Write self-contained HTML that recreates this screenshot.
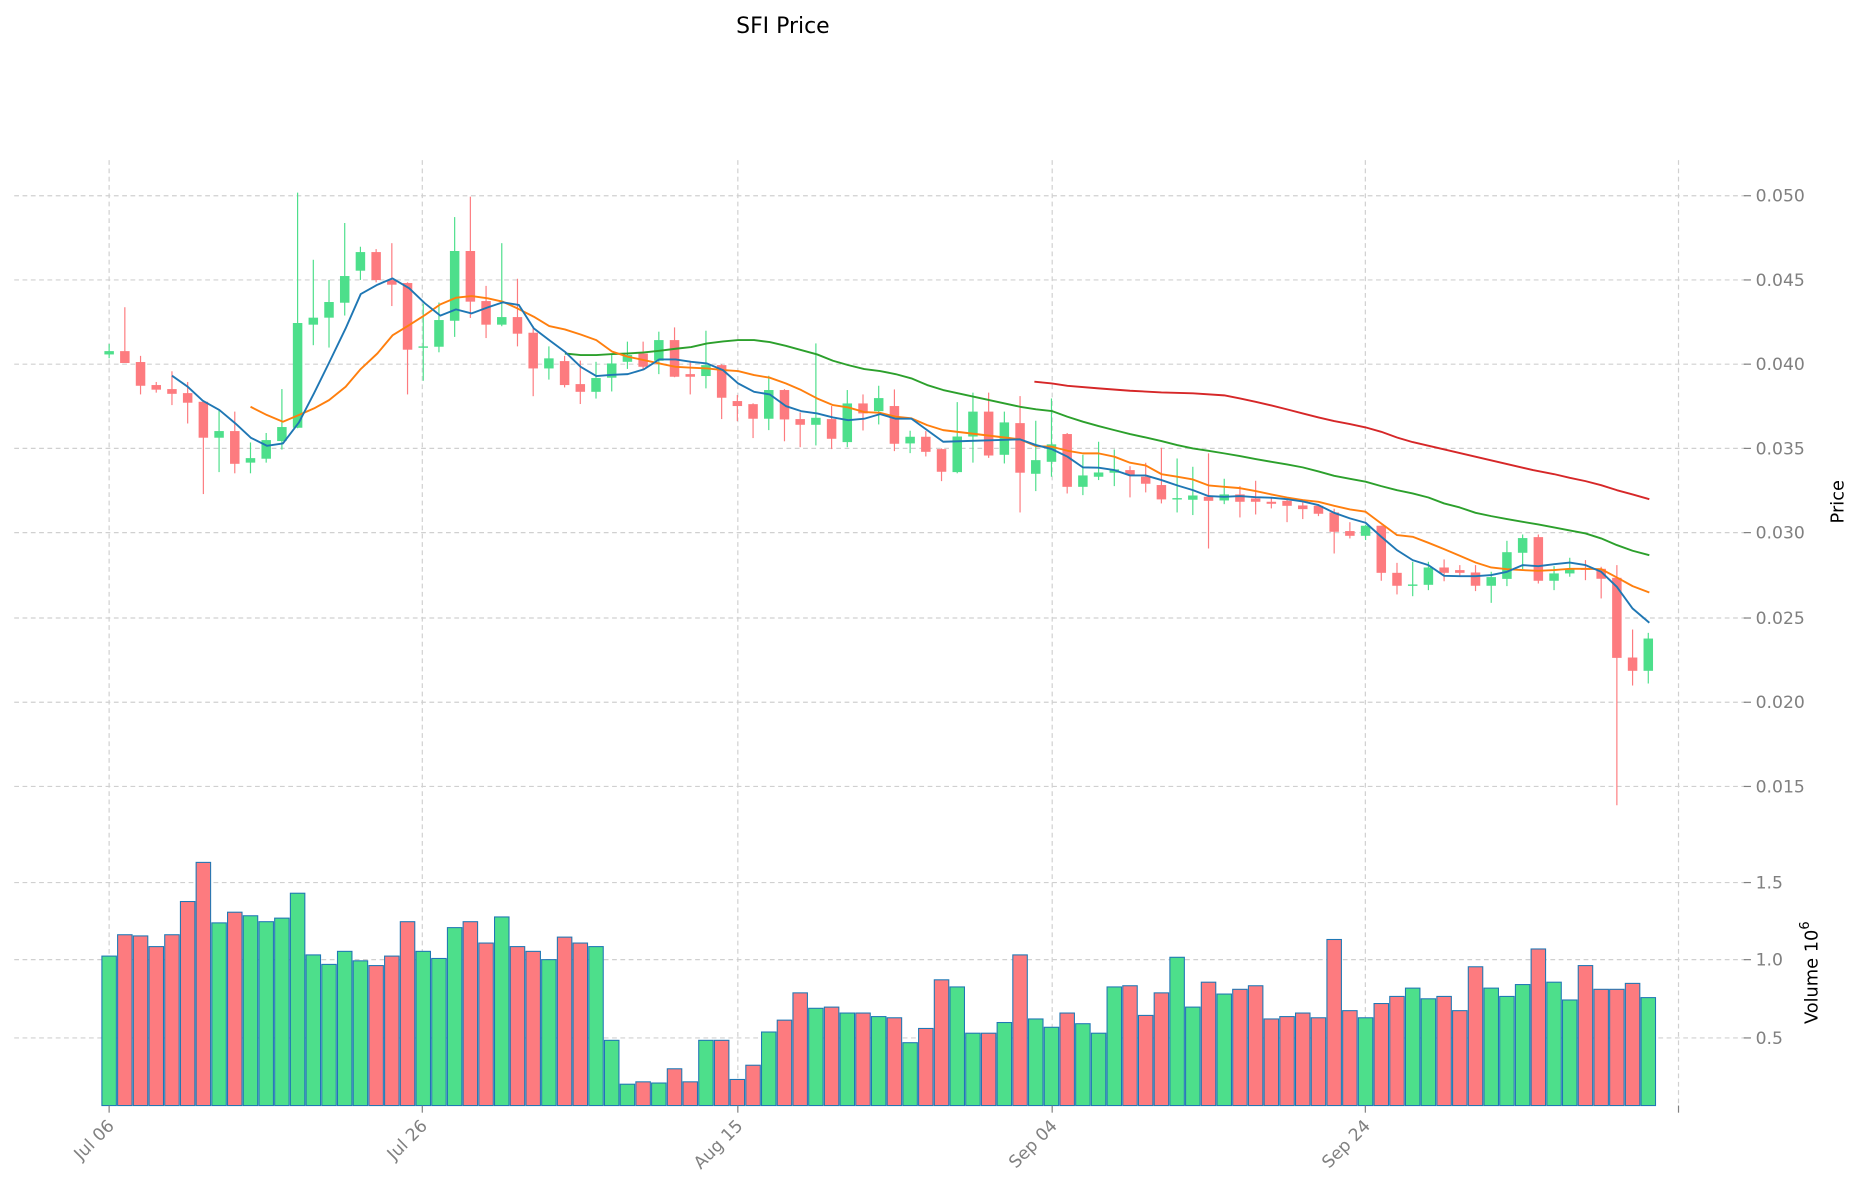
<!DOCTYPE html>
<html><head><meta charset="utf-8"><style>
html,body{margin:0;padding:0;background:#fff;}
svg{display:block;}
text{font-family:"DejaVu Sans","Liberation Sans",sans-serif;}
</style></head><body>
<svg id="s" width="1860" height="1202" viewBox="0 0 1568 1013.3" preserveAspectRatio="none" xmlns="http://www.w3.org/2000/svg">
<g id="grid" stroke="#d0d0d0" stroke-width="1" stroke-dasharray="4,3" fill="none"></g>
<g id="vol"></g>
<g id="cdl"></g>
<g id="ma" fill="none" stroke-width="1.6" stroke-linejoin="round"></g>
<g id="ticks" stroke="#808080" stroke-width="1"></g>
<g fill="#808080" font-size="14.5">
<text x="1480" y="170">0.050</text>
<text x="1480" y="241">0.045</text>
<text x="1480" y="312">0.040</text>
<text x="1480" y="383">0.035</text>
<text x="1480" y="454">0.030</text>
<text x="1480" y="526">0.025</text>
<text x="1480" y="597">0.020</text>
<text x="1480" y="668">0.015</text>
<text x="1480" y="749">1.5</text>
<text x="1480" y="814">1.0</text>
<text x="1480" y="880">0.5</text>
</g>
<g fill="#808080" font-size="14.5" text-anchor="end">
<text transform="translate(97,950) rotate(-45)">Jul 06</text>
<text transform="translate(361,950) rotate(-45)">Jul 26</text>
<text transform="translate(627,950) rotate(-45)">Aug 15</text>
<text transform="translate(892,950) rotate(-45)">Sep 04</text>
<text transform="translate(1156,950) rotate(-45)">Sep 24</text>
</g>
<text x="660" y="28" font-size="18.5" text-anchor="middle" fill="#000">SFI Price</text>
<text transform="translate(1554,423) rotate(-90)" font-size="15" text-anchor="middle" fill="#000">Price</text>
<text transform="translate(1532,820) rotate(-90)" font-size="15" text-anchor="middle" fill="#000">Volume  10<tspan dy="-7" font-size="11">6</tspan></text>
</svg>
<script>
var NS="http://www.w3.org/2000/svg";
function el(p,t,a){var e=document.createElementNS(NS,t);for(var k in a)e.setAttribute(k,a[k]);document.getElementById(p).appendChild(e);return e;}
function X(i){return 92+i*13.24;}
[165,236,307,378,449,521,592,663,744,809,875].forEach(function(y){el("grid","line",{x1:12,x2:1476,y1:y,y2:y});});
[92,356,622,887,1151,1415].forEach(function(x){el("grid","line",{x1:x,x2:x,y1:135,y2:934});});
[165,236,307,378,449,521,592,663,744,809,875].forEach(function(y){el("ticks","line",{x1:1470,x2:1476,y1:y,y2:y});});
[92,356,622,887,1151,1415].forEach(function(x){el("ticks","line",{x1:x,x2:x,y1:932,y2:938});});
var G="#4ddf8b",R="#fd7b7f";
var C=[
[296,298.8,290,302,1],[296,306,259,306,0],[305.2,325.2,300,332.5,0],[324.6,328.5,322,331,0],[328,332,313,341.5,0],
[331.4,339.5,322,357,0],[338.7,369,338,416.5,0],[363.4,369,346,398,1],[363.4,391,347,399,0],[386.2,390,373,399,1],
[371,386.7,365,390,1],[360,371.8,328,379,1],[272.3,360.6,162.4,361,1],[267.8,273.7,219,291,1],[254.6,267.8,236,293,1],
[232.7,255.2,188,266,1],[212.5,228.2,208,236,1],[212.5,236.1,210,238,0],[236.1,240,205,258,0],[238.6,294.8,238,332.5,0],
[292,292.8,256,321,1],[269.8,292.3,255,297,1],[211.6,270.4,183,284,1],[211.6,254.3,165.8,268,0],[253.8,273.7,241,285,0],
[267.3,273.7,205,275,1],[267.3,281.3,235,292,0],[280.5,310.6,275,334,0],[302.1,310.6,292,320,1],[304.4,324.6,300,326.6,0],
[323.8,330.3,304,340.6,0],[318.7,330.3,305,336,1],[306.4,318.4,298,330,1],[299.3,305,288,311,1],[298,309.2,288,312,0],
[286.7,304.1,279.6,315.4,1],[286.7,317.6,276,318,0],[315.4,317.6,305,332.5,0],[307.8,317,278.8,327.4,1],[307.8,335.3,307,353.3,0],
[338.1,342.3,333,355,0],[340.7,353,340,369.3,0],[328.8,353,316.8,362.6,1],[328.8,353.6,328,372,0],[353.3,358.1,347.7,377,0],
[352.2,358.1,289.5,375.5,1],[353.3,369.9,342.3,378.6,0],[340.1,372.7,328.8,377,1],[340.1,348.5,332.5,362.9,0],[335.6,346.6,325.2,357.8,1],
[342.3,374.1,328.3,380.3,0],[368.2,373.8,363.1,382,1],[368.2,380.9,363.4,384.8,0],[378.6,397.7,378,405.6,0],[368,398,339,399,1],
[347,368,331,390,1],[347,384,331,386,0],[356.1,383.4,347,390.7,1],[356.7,398.5,333.9,432,0],[387.9,399.4,354.7,414,1],
[374.6,389.3,335.9,401.9,1],[365.9,410.4,365,416,0],[400.8,410.4,383.4,417.4,1],[398.3,401.9,372.4,404.7,1],[395.7,398.5,378.9,409.8,1],
[396.3,400,393,419.3,0],[401.9,407.8,390.1,415.1,0],[408.9,421,377.5,424.4,0],[419.9,421,386.5,432,1],[417.7,421.3,393.5,434.2,1],
[418.8,422.2,382.2,462.4,0],[416.8,421.9,403.6,425,1],[416.8,423,409.8,436.2,0],[420.2,423,405.3,433.7,0],[423,424.7,419.3,428.6,0],
[422.2,426.4,420.2,440.2,0],[426.1,429.2,423.3,437.6,0],[426.4,433.1,425,435.1,0],[432,448.3,428.9,466.6,0],[447.7,451.7,440.2,453.9,0],
[443.2,451.7,442.4,455.3,1],[443.2,482.9,443,489.6,0],[482.9,493.8,474.5,501.1,0],[492.7,493.6,473.6,502.6,1],[478.4,493,473.6,497.5,1],
[478.4,482.9,471.6,490,0],[480.6,482.9,476.4,485.7,0],[482.6,493.8,476.4,498.3,0],[486.5,493.8,482,508.2,1],[465.5,488,455.9,494.1,1],
[453.6,466,450.6,479.8,1],[452.8,489.6,450.6,491.9,0],[483.4,489.6,477.3,497.5,1],[479.5,483.4,470.2,486.2,1],[479.2,479.8,472.2,489.1,0],
[479.5,487.9,477.8,504.5,0],[487.1,554.6,476.4,678.8,0],[554.3,565.5,530.7,577.9,0],[538.3,565.5,533.5,576.2,1]];
var V=[806,788,789,798,788,760,727,778,769,772,777,774,753,805,813,802,810,814,806,777,802,808,782,777,795,773,798,802,809,790,
795,798,877,914,912,913,901,912,877,877,910,898,870,860,837,850,849,854,854,857,858,879,867,826,832,871,871,862,805,859,
866,854,863,871,832,831,856,837,807,849,828,838,834,831,859,857,854,858,792,852,858,846,840,833,842,840,852,815,833,840,
830,800,828,843,814,834,834,829,841];
for(var i=0;i<C.length;i++){var c=C[i],col=c[4]?G:R,x=X(i);
 el("vol","rect",{x:x-6.1,y:V[i],width:12.2,height:932-V[i],fill:col,stroke:"#1f77b4","stroke-width":0.9});
 el("cdl","line",{x1:x,x2:x,y1:c[2],y2:c[3],stroke:col,"stroke-width":1});
 el("cdl","rect",{x:x-4,y:c[0],width:8,height:Math.max(1.2,c[1]-c[0]),fill:col});
}
function cv(pts,f){return pts.map(function(p){return f(p[0]).toFixed(1)+","+p[1];}).join(" ");}
var z3=function(px){return X((px-42)/47);},z4=function(px){return X(26+(px-8)/47);},z5=function(px){return X(57+(px-15)/47);},z6=function(px){return X(83+(px-40)/47);};
var blue=cv([[230,316.7],[277,326],[322,337.8],[372,345.7],[420,357],[466,369],[514,375.8],[562,373.8],[610,356.1],[655,331.6],[700,305.8],[750,276.8],[795,247.9],[845,240],[890,234.7],[940,243.1],[987,255.7],[1033,266.1],[1080,260.8],[1127,264.2],[1175,259.1],[1220,254.9],[1268,257.1]],z3)+" "+
cv([[57,276.8],[103,286.7],[150,296.5],[197,309.2],[244,317],[292,316],[338,315.4],[386,311.4],[432,303],[481,303],[528,305],[575,306.4],[623,312],[668,323.2],[716,330.3],[763,332.5],[811,342.3],[857,346.6],[905,348.5],[952,351.9],[998,354.2],[1046,353],[1093,349.1],[1140,353],[1187,353],[1234,362.6],[1282,372.4]],z4)+" "+
cv([[62,370.4],[110,375.2],[157,378.6],[204,385],[250,394],[297,394.3],[344,396.3],[391,400.8],[438,400.8],[485,404.7],[532,409.2],[579,413.2],[626,418.2],[673,418.8],[720,418.2],[767,419.1],[814,419.6],[861,420.8],[908,422.7],[955,425.8],[1002,432.3],[1049,437],[1096,440.7],[1143,452.5],[1190,463.8],[1237,472.2]],z5)+" "+
cv([[40,472.2],[87,476.4],[134,485.4],[181,485.7],[228,485.7],[275,484.8],[322,482],[369,476.4],[416,477.3],[463,475.6],[510,474.2],[557,476.4],[604,482],[651,494.7],[698,513],[748,525]],z6);
var orange=cv([[465,342.9],[514,349.9],[562,355.5],[610,349.9],[655,344.3],[700,337.3],[750,326],[795,311.1],[845,297.9],[890,282.7],[940,274],[987,265.6],[1033,256.6],[1080,251],[1127,249.6],[1175,251.5],[1220,254.3]],z3)+" "+
cv([[8,260],[57,267],[103,274.9],[150,277.7],[197,282],[244,286.7],[292,296.5],[338,300.7],[386,303.5],[432,306.4],[481,309.2],[528,310],[575,310.6],[623,312],[668,312.8],[716,316.2],[763,318.4],[811,323.2],[857,328.8],[905,335.9],[952,341.5],[998,343.5],[1046,347.4],[1093,348],[1140,351.3],[1187,352.7],[1234,358.4],[1282,362.6]],z4)+" "+
cv([[62,370.4],[110,376.1],[157,376.6],[204,380],[250,382.2],[297,382.2],[344,385],[391,390.1],[438,392.4],[485,399.7],[532,401.9],[579,404.2],[626,409.2],[673,410.4],[720,411.5],[767,414],[814,416.8],[861,419.4],[908,421.6],[955,423],[1002,426.4],[1049,429.5],[1096,431.4],[1143,441.3],[1190,451.1]],z5)+" "+
cv([[40,452.5],[87,457.6],[134,462.9],[181,468.5],[228,474.2],[275,478.4],[322,479.8],[369,480.6],[416,481.2],[463,480.6],[510,479.5],[557,479.5],[604,479.8],[651,486.8],[698,494.1],[748,499.5]],z6);
var green=cv([[150,298],[197,299.3],[244,299.3],[292,298.5],[338,298],[386,297.1],[432,295.7],[481,294],[528,292.6],[575,289.5],[623,287.8],[668,286.7],[716,286.7],[763,288.4],[811,291.5],[857,295.1],[905,298.8],[952,304.1],[998,307.8],[1046,311.1],[1093,312.8],[1140,315.4],[1187,319],[1234,324.6],[1282,328.8]],z4)+" "+
cv([[62,342.9],[110,345.1],[157,346.5],[204,351.3],[250,355.5],[297,359.2],[344,362.6],[391,365.9],[438,368.8],[485,371.8],[532,375.2],[579,378],[626,380],[673,382.2],[720,384.5],[767,387],[814,389.3],[861,391.5],[908,394],[955,397.4],[1002,401.1],[1049,403.6],[1096,406.1],[1143,409.8],[1190,413.2]],z5)+" "+
cv([[40,416],[87,419.4],[134,424.4],[181,427.8],[228,432.3],[275,435.1],[322,437.6],[369,439.9],[416,442.1],[463,444.6],[510,447.2],[557,449.7],[604,453.9],[651,459.5],[698,464.3],[748,468]],z6);
var red=cv([[105,321.8],[157,323.2],[204,325.2],[297,327.4],[391,329.4],[485,330.8],[579,331.6],[673,333.3],[720,335.9],[767,338.7],[814,341.8],[861,345.1],[908,348.5],[955,351.9],[1002,355],[1049,357.5],[1096,360.3],[1143,364],[1190,368.8],[1237,372.7]],z5)+" "+
cv([[400,396.3],[463,399.7],[510,402.8],[557,405.6],[604,409],[651,413.2],[698,416.8],[748,420.8]],z6);
el("ma","polyline",{points:red,stroke:"#d62728"});
el("ma","polyline",{points:green,stroke:"#2ca02c"});
el("ma","polyline",{points:orange,stroke:"#ff7f0e"});
el("ma","polyline",{points:blue,stroke:"#1f77b4"});
</script>
</body></html>
